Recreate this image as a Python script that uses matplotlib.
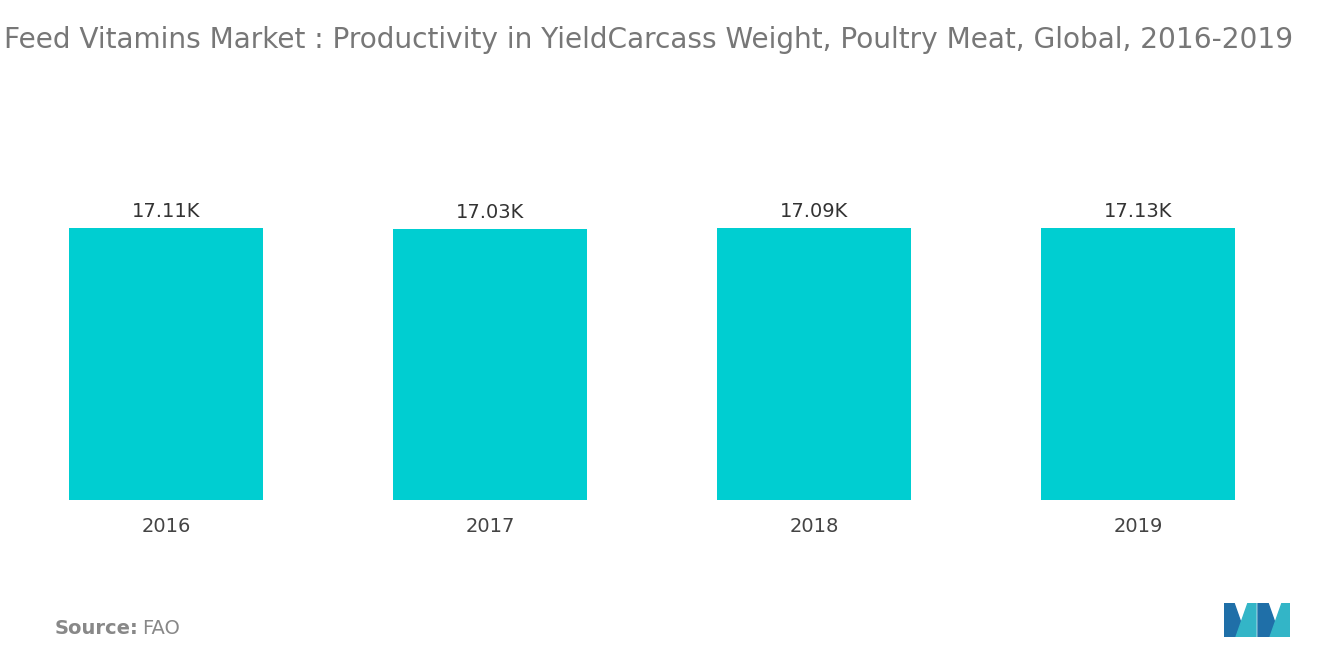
import matplotlib.pyplot as plt
from matplotlib.patches import Polygon

years = ["2016", "2017", "2018", "2019"]
values = [17.11, 17.03, 17.09, 17.13]
labels = ["17.11K", "17.03K", "17.09K", "17.13K"]

fig = plt.figure(figsize=(13.2, 6.65), dpi=100)
ax = fig.add_axes([4 / 1320, 165 / 665, 1296 / 1320, 335 / 665])
x = range(len(years))
bars = ax.bar(x, values, width=0.6, color="#00CED1")
for b, lab in zip(bars, labels):
    ax.text(b.get_x() + b.get_width() / 2, b.get_height() + 0.45, lab,
            ha="center", va="bottom", fontsize=14, color="#333333")
ax.set_xlim(-0.5, 3.5)
ax.set_ylim(0, 17.11 * 335 / 272)
ax.set_xticks(list(x))
ax.set_xticklabels(years, fontsize=14, color="#444444")
ax.tick_params(axis="x", length=0, pad=12)
ax.set_yticks([])
for s in ax.spines.values():
    s.set_visible(False)

fig.text(4 / 1320, 1 - 40 / 665,
         "Feed Vitamins Market : Productivity in YieldCarcass Weight, Poultry Meat, Global, 2016-2019",
         fontsize=20.2, color="#777777", va="center")
fig.text(55 / 1320, 1 - 628 / 665, "Source:", fontsize=14, fontweight="bold",
         color="#888888", va="center")
fig.text(142 / 1320, 1 - 628 / 665, "FAO", fontsize=14, color="#888888", va="center")

# logo
lx = fig.add_axes([1224 / 1320, 28 / 665, 66 / 1320, 34 / 665])
lx.set_xlim(0, 66)
lx.set_ylim(0, 34)
lx.axis("off")
lx.add_patch(Polygon([(0, 0), (0, 34), (10, 34), (22, 0)], color="#1F6FA8"))
lx.add_patch(Polygon([(12, 0), (24, 34), (32, 34), (32, 0)], color="#33B5C7"))
lx.add_patch(Polygon([(34, 0), (34, 34), (44, 34), (56, 0)], color="#1F6FA8"))
lx.add_patch(Polygon([(46, 0), (58, 34), (66, 34), (66, 0)], color="#33B5C7"))

fig.savefig("out.png")
